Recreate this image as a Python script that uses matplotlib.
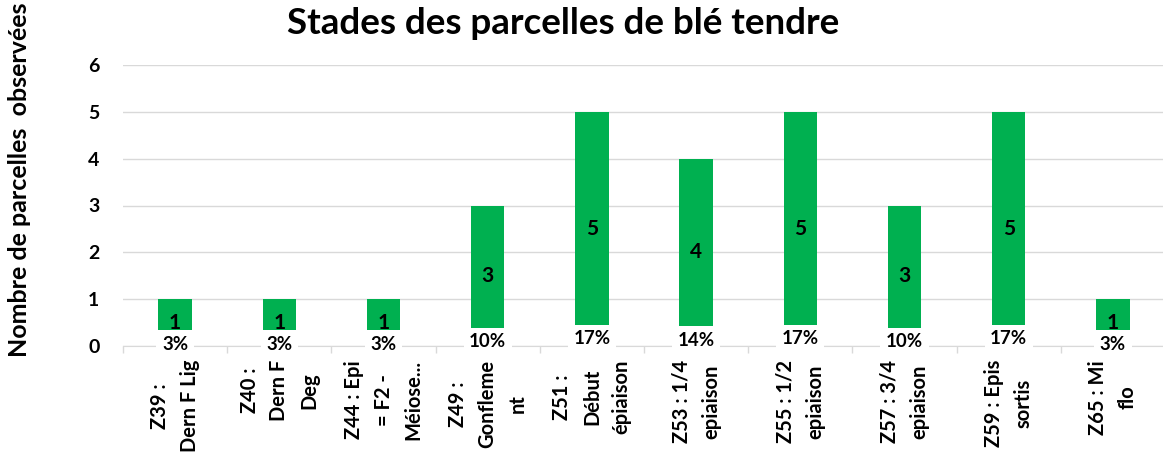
import numpy as np
import matplotlib
matplotlib.use("Agg")
import matplotlib.pyplot as plt

plt.rcParams['font.family'] = ['Lato', 'DejaVu Sans']
plt.rcParams['font.weight'] = 'bold'

# données
stades = ["Z39 :\nDern F Lig", "Z40 :\nDern F\nDeg", "Z44 : Epi\n= F2 -\nMéiose...",
          "Z49 :\nGonfleme\nnt", "Z51 :\nDébut\népiaison", "Z53 : 1/4\nepiaison",
          "Z55 : 1/2\nepiaison", "Z57 : 3/4\nepiaison", "Z59 : Epis\nsortis",
          "Z65 : Mi\nflo"]
nb_parcelles = [1, 1, 1, 3, 5, 4, 5, 3, 5, 1]
pourcentages = ["3%", "3%", "3%", "10%", "17%", "14%", "17%", "10%", "17%", "3%"]

vert = "#00B050"
gris = "#D9D9D9"

fig = plt.figure(figsize=(11.63, 4.54), dpi=100)
ax = fig.add_axes([123/1163, 1 - 346/454, 1042/1163, (346 - 65)/454])

x = np.arange(len(stades))
ax.bar(x, nb_parcelles, width=0.32, color=vert, zorder=2)

for xi, v, p in zip(x, nb_parcelles, pourcentages):
    ax.text(xi, v / 2, str(v), ha='center', va='center', fontsize=15,
            fontweight='bold', color='black', zorder=4)
    ax.text(xi, 0.03 * v, p, ha='center', va='center', fontsize=13.5,
            fontweight='bold', color='black', zorder=5,
            bbox=dict(boxstyle='square,pad=0.3', fc='white', ec='none'))

ax.set_xlim(-0.5, len(stades) - 0.5)
ax.set_ylim(0, 6)
ax.set_yticks(range(7))
ax.yaxis.grid(True, color=gris, linewidth=1, zorder=0)
ax.set_axisbelow(True)

ax.set_xticks(x)
ax.set_xticklabels(stades, rotation=90, ha='center', va='top',
                   multialignment='center', linespacing=1.6,
                   fontsize=14.5, fontweight='bold')
ax.set_xticks(np.arange(-0.5, len(stades), 1), minor=True)
ax.tick_params(axis='x', which='major', length=0, pad=10)
ax.tick_params(axis='x', which='minor', length=5, color=gris, width=1)
ax.tick_params(axis='y', length=0, pad=17, labelsize=14)
for lbl in ax.get_yticklabels():
    lbl.set_fontweight('bold')

for s in ['top', 'right', 'left']:
    ax.spines[s].set_visible(False)
ax.spines['bottom'].set_color(gris)

fig.text(563/1163, 1 - 24/454, "Stades des parcelles de blé tendre",
         ha='center', va='center', fontsize=26.5, fontweight='bold')
fig.text(20/1163, 1 - 180/454, "Nombre de parcelles  observées",
         ha='center', va='center', rotation=90, fontsize=18, fontweight='bold')

fig.savefig("out.png", dpi=100)
